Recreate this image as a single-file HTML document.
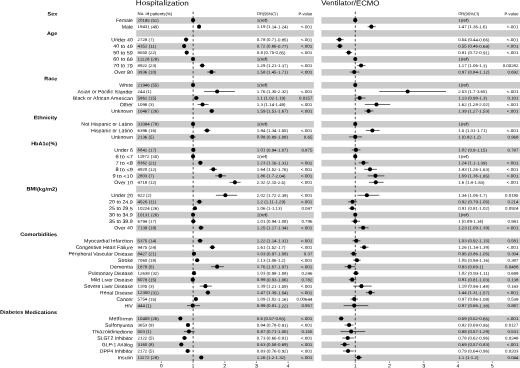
<!DOCTYPE html>
<html><head><meta charset="utf-8"><title>Forest plot</title>
<style>
html,body{margin:0;padding:0;background:#fff;}
body{width:520px;height:368px;overflow:hidden;position:relative;}
#wrap{position:absolute;left:0;top:0;width:520px;height:368px;transform:scale(1.0);transform-origin:0 0;will-change:transform;background:#fff;}
svg{display:block;font-family:"Liberation Sans",sans-serif;}
</style></head><body>
<div id="wrap">
<svg text-rendering="geometricPrecision" width="520" height="368" viewBox="0 0 520 368">
<rect width="520" height="368" fill="#fff"/>
<rect x="136.2" y="17.15" width="177.70" height="6.55" fill="#cbcbcb"/>
<rect x="321.4" y="17.15" width="198.60" height="6.55" fill="#cbcbcb"/>
<rect x="136.2" y="30.12" width="177.70" height="6.55" fill="#cbcbcb"/>
<rect x="321.4" y="30.12" width="198.60" height="6.55" fill="#cbcbcb"/>
<rect x="136.2" y="43.10" width="177.70" height="6.55" fill="#cbcbcb"/>
<rect x="321.4" y="43.10" width="198.60" height="6.55" fill="#cbcbcb"/>
<rect x="136.2" y="56.07" width="177.70" height="6.55" fill="#cbcbcb"/>
<rect x="321.4" y="56.07" width="198.60" height="6.55" fill="#cbcbcb"/>
<rect x="136.2" y="69.05" width="177.70" height="6.55" fill="#cbcbcb"/>
<rect x="321.4" y="69.05" width="198.60" height="6.55" fill="#cbcbcb"/>
<rect x="136.2" y="82.02" width="177.70" height="6.55" fill="#cbcbcb"/>
<rect x="321.4" y="82.02" width="198.60" height="6.55" fill="#cbcbcb"/>
<rect x="136.2" y="95.00" width="177.70" height="6.55" fill="#cbcbcb"/>
<rect x="321.4" y="95.00" width="198.60" height="6.55" fill="#cbcbcb"/>
<rect x="136.2" y="107.97" width="177.70" height="6.55" fill="#cbcbcb"/>
<rect x="321.4" y="107.97" width="198.60" height="6.55" fill="#cbcbcb"/>
<rect x="136.2" y="120.95" width="177.70" height="6.55" fill="#cbcbcb"/>
<rect x="321.4" y="120.95" width="198.60" height="6.55" fill="#cbcbcb"/>
<rect x="136.2" y="133.92" width="177.70" height="6.55" fill="#cbcbcb"/>
<rect x="321.4" y="133.92" width="198.60" height="6.55" fill="#cbcbcb"/>
<rect x="136.2" y="146.90" width="177.70" height="6.55" fill="#cbcbcb"/>
<rect x="321.4" y="146.90" width="198.60" height="6.55" fill="#cbcbcb"/>
<rect x="136.2" y="159.87" width="177.70" height="6.55" fill="#cbcbcb"/>
<rect x="321.4" y="159.87" width="198.60" height="6.55" fill="#cbcbcb"/>
<rect x="136.2" y="172.85" width="177.70" height="6.55" fill="#cbcbcb"/>
<rect x="321.4" y="172.85" width="198.60" height="6.55" fill="#cbcbcb"/>
<rect x="136.2" y="185.82" width="177.70" height="6.55" fill="#cbcbcb"/>
<rect x="321.4" y="185.82" width="198.60" height="6.55" fill="#cbcbcb"/>
<rect x="136.2" y="198.80" width="177.70" height="6.55" fill="#cbcbcb"/>
<rect x="321.4" y="198.80" width="198.60" height="6.55" fill="#cbcbcb"/>
<rect x="136.2" y="211.77" width="177.70" height="6.55" fill="#cbcbcb"/>
<rect x="321.4" y="211.77" width="198.60" height="6.55" fill="#cbcbcb"/>
<rect x="136.2" y="224.75" width="177.70" height="6.55" fill="#cbcbcb"/>
<rect x="321.4" y="224.75" width="198.60" height="6.55" fill="#cbcbcb"/>
<rect x="136.2" y="237.72" width="177.70" height="6.55" fill="#cbcbcb"/>
<rect x="321.4" y="237.72" width="198.60" height="6.55" fill="#cbcbcb"/>
<rect x="136.2" y="250.70" width="177.70" height="6.55" fill="#cbcbcb"/>
<rect x="321.4" y="250.70" width="198.60" height="6.55" fill="#cbcbcb"/>
<rect x="136.2" y="263.67" width="177.70" height="6.55" fill="#cbcbcb"/>
<rect x="321.4" y="263.67" width="198.60" height="6.55" fill="#cbcbcb"/>
<rect x="136.2" y="276.65" width="177.70" height="6.55" fill="#cbcbcb"/>
<rect x="321.4" y="276.65" width="198.60" height="6.55" fill="#cbcbcb"/>
<rect x="136.2" y="289.62" width="177.70" height="6.55" fill="#cbcbcb"/>
<rect x="321.4" y="289.62" width="198.60" height="6.55" fill="#cbcbcb"/>
<rect x="136.2" y="302.60" width="177.70" height="6.55" fill="#cbcbcb"/>
<rect x="321.4" y="302.60" width="198.60" height="6.55" fill="#cbcbcb"/>
<rect x="136.2" y="315.57" width="177.70" height="6.55" fill="#cbcbcb"/>
<rect x="321.4" y="315.57" width="198.60" height="6.55" fill="#cbcbcb"/>
<rect x="136.2" y="328.55" width="177.70" height="6.55" fill="#cbcbcb"/>
<rect x="321.4" y="328.55" width="198.60" height="6.55" fill="#cbcbcb"/>
<rect x="136.2" y="341.52" width="177.70" height="6.55" fill="#cbcbcb"/>
<rect x="321.4" y="341.52" width="198.60" height="6.55" fill="#cbcbcb"/>
<rect x="136.2" y="354.50" width="177.70" height="6.55" fill="#cbcbcb"/>
<rect x="321.4" y="354.50" width="198.60" height="6.55" fill="#cbcbcb"/>
<line x1="193.15" y1="11.68" x2="193.15" y2="361.5" stroke="#1a1a1a" stroke-width="0.74" stroke-dasharray="2.35 2.22"/>
<line x1="355.30" y1="11.68" x2="355.30" y2="361.5" stroke="#1a1a1a" stroke-width="0.74" stroke-dasharray="2.35 2.22"/>
<circle cx="193.05" cy="20.15" r="2.05" fill="#000"/>
<circle cx="355.25" cy="20.15" r="2.05" fill="#000"/>
<line x1="197.49" y1="26.63" x2="200.66" y2="26.63" stroke="#000" stroke-width="0.6"/>
<circle cx="199.07" cy="26.63" r="2.05" fill="#000"/>
<line x1="367.58" y1="26.63" x2="375.80" y2="26.63" stroke="#000" stroke-width="0.6"/>
<circle cx="371.35" cy="26.63" r="2.05" fill="#000"/>
<line x1="183.86" y1="39.61" x2="188.29" y2="39.61" stroke="#000" stroke-width="0.6"/>
<circle cx="186.08" cy="39.61" r="2.05" fill="#000"/>
<line x1="336.07" y1="39.61" x2="343.61" y2="39.61" stroke="#000" stroke-width="0.6"/>
<circle cx="339.50" cy="39.61" r="2.05" fill="#000"/>
<line x1="182.27" y1="46.10" x2="185.76" y2="46.10" stroke="#000" stroke-width="0.6"/>
<circle cx="184.17" cy="46.10" r="2.05" fill="#000"/>
<line x1="336.75" y1="46.10" x2="342.92" y2="46.10" stroke="#000" stroke-width="0.6"/>
<circle cx="339.84" cy="46.10" r="2.05" fill="#000"/>
<line x1="185.12" y1="52.58" x2="188.29" y2="52.58" stroke="#000" stroke-width="0.6"/>
<circle cx="186.71" cy="52.58" r="2.05" fill="#000"/>
<line x1="345.66" y1="52.58" x2="352.17" y2="52.58" stroke="#000" stroke-width="0.6"/>
<circle cx="348.74" cy="52.58" r="2.05" fill="#000"/>
<circle cx="193.05" cy="59.07" r="2.05" fill="#000"/>
<circle cx="355.25" cy="59.07" r="2.05" fill="#000"/>
<line x1="199.71" y1="65.56" x2="204.78" y2="65.56" stroke="#000" stroke-width="0.6"/>
<circle cx="202.24" cy="65.56" r="2.05" fill="#000"/>
<line x1="357.31" y1="65.56" x2="365.52" y2="65.56" stroke="#000" stroke-width="0.6"/>
<circle cx="361.07" cy="65.56" r="2.05" fill="#000"/>
<line x1="207.31" y1="72.05" x2="215.56" y2="72.05" stroke="#000" stroke-width="0.6"/>
<circle cx="211.44" cy="72.05" r="2.05" fill="#000"/>
<line x1="349.77" y1="72.05" x2="359.36" y2="72.05" stroke="#000" stroke-width="0.6"/>
<circle cx="354.22" cy="72.05" r="2.05" fill="#000"/>
<circle cx="193.05" cy="85.02" r="2.05" fill="#000"/>
<circle cx="355.25" cy="85.02" r="2.05" fill="#000"/>
<line x1="204.14" y1="91.51" x2="234.89" y2="91.51" stroke="#000" stroke-width="0.6"/>
<circle cx="217.14" cy="91.51" r="2.05" fill="#000"/>
<line x1="379.23" y1="91.51" x2="446.01" y2="91.51" stroke="#000" stroke-width="0.6"/>
<circle cx="407.65" cy="91.51" r="2.05" fill="#000"/>
<line x1="193.68" y1="98.00" x2="199.07" y2="98.00" stroke="#000" stroke-width="0.6"/>
<circle cx="196.22" cy="98.00" r="2.05" fill="#000"/>
<line x1="354.56" y1="98.00" x2="365.52" y2="98.00" stroke="#000" stroke-width="0.6"/>
<circle cx="359.70" cy="98.00" r="2.05" fill="#000"/>
<line x1="197.49" y1="104.48" x2="208.58" y2="104.48" stroke="#000" stroke-width="0.6"/>
<circle cx="202.56" cy="104.48" r="2.05" fill="#000"/>
<line x1="364.84" y1="104.48" x2="390.19" y2="104.48" stroke="#000" stroke-width="0.6"/>
<circle cx="376.49" cy="104.48" r="2.05" fill="#000"/>
<line x1="209.22" y1="110.97" x2="214.29" y2="110.97" stroke="#000" stroke-width="0.6"/>
<circle cx="211.75" cy="110.97" r="2.05" fill="#000"/>
<line x1="364.50" y1="110.97" x2="373.40" y2="110.97" stroke="#000" stroke-width="0.6"/>
<circle cx="368.61" cy="110.97" r="2.05" fill="#000"/>
<circle cx="193.05" cy="123.95" r="2.05" fill="#000"/>
<circle cx="355.25" cy="123.95" r="2.05" fill="#000"/>
<line x1="203.83" y1="130.44" x2="210.48" y2="130.44" stroke="#000" stroke-width="0.6"/>
<circle cx="207.00" cy="130.44" r="2.05" fill="#000"/>
<line x1="365.87" y1="130.44" x2="379.57" y2="130.44" stroke="#000" stroke-width="0.6"/>
<circle cx="372.38" cy="130.44" r="2.05" fill="#000"/>
<line x1="189.56" y1="136.92" x2="195.59" y2="136.92" stroke="#000" stroke-width="0.6"/>
<circle cx="192.42" cy="136.92" r="2.05" fill="#000"/>
<line x1="349.08" y1="136.92" x2="362.10" y2="136.92" stroke="#000" stroke-width="0.6"/>
<circle cx="355.25" cy="136.92" r="2.05" fill="#000"/>
<line x1="191.15" y1="149.90" x2="195.27" y2="149.90" stroke="#000" stroke-width="0.6"/>
<circle cx="193.37" cy="149.90" r="2.05" fill="#000"/>
<line x1="351.82" y1="149.90" x2="360.39" y2="149.90" stroke="#000" stroke-width="0.6"/>
<circle cx="355.94" cy="149.90" r="2.05" fill="#000"/>
<circle cx="193.05" cy="156.38" r="2.05" fill="#000"/>
<circle cx="355.25" cy="156.38" r="2.05" fill="#000"/>
<line x1="198.12" y1="162.87" x2="202.88" y2="162.87" stroke="#000" stroke-width="0.6"/>
<circle cx="200.34" cy="162.87" r="2.05" fill="#000"/>
<line x1="358.68" y1="162.87" x2="368.61" y2="162.87" stroke="#000" stroke-width="0.6"/>
<circle cx="363.47" cy="162.87" r="2.05" fill="#000"/>
<line x1="209.53" y1="169.36" x2="217.14" y2="169.36" stroke="#000" stroke-width="0.6"/>
<circle cx="213.34" cy="169.36" r="2.05" fill="#000"/>
<line x1="364.15" y1="169.36" x2="376.83" y2="169.36" stroke="#000" stroke-width="0.6"/>
<circle cx="369.98" cy="169.36" r="2.05" fill="#000"/>
<line x1="215.24" y1="175.85" x2="226.02" y2="175.85" stroke="#000" stroke-width="0.6"/>
<circle cx="220.31" cy="175.85" r="2.05" fill="#000"/>
<line x1="367.58" y1="175.85" x2="384.36" y2="175.85" stroke="#000" stroke-width="0.6"/>
<circle cx="375.46" cy="175.85" r="2.05" fill="#000"/>
<line x1="229.50" y1="182.33" x2="240.60" y2="182.33" stroke="#000" stroke-width="0.6"/>
<circle cx="234.89" cy="182.33" r="2.05" fill="#000"/>
<line x1="368.95" y1="182.33" x2="383.68" y2="182.33" stroke="#000" stroke-width="0.6"/>
<circle cx="375.80" cy="182.33" r="2.05" fill="#000"/>
<line x1="215.87" y1="195.31" x2="237.11" y2="195.31" stroke="#000" stroke-width="0.6"/>
<circle cx="225.38" cy="195.31" r="2.05" fill="#000"/>
<line x1="357.31" y1="195.31" x2="379.23" y2="195.31" stroke="#000" stroke-width="0.6"/>
<circle cx="366.89" cy="195.31" r="2.05" fill="#000"/>
<line x1="196.54" y1="201.80" x2="202.24" y2="201.80" stroke="#000" stroke-width="0.6"/>
<circle cx="199.39" cy="201.80" r="2.05" fill="#000"/>
<line x1="348.06" y1="201.80" x2="356.96" y2="201.80" stroke="#000" stroke-width="0.6"/>
<circle cx="352.51" cy="201.80" r="2.05" fill="#000"/>
<line x1="193.05" y1="208.28" x2="197.17" y2="208.28" stroke="#000" stroke-width="0.6"/>
<circle cx="194.95" cy="208.28" r="2.05" fill="#000"/>
<line x1="348.74" y1="208.28" x2="355.94" y2="208.28" stroke="#000" stroke-width="0.6"/>
<circle cx="352.17" cy="208.28" r="2.05" fill="#000"/>
<circle cx="193.05" cy="214.77" r="2.05" fill="#000"/>
<circle cx="355.25" cy="214.77" r="2.05" fill="#000"/>
<line x1="191.15" y1="221.26" x2="195.59" y2="221.26" stroke="#000" stroke-width="0.6"/>
<circle cx="193.37" cy="221.26" r="2.05" fill="#000"/>
<line x1="351.48" y1="221.26" x2="360.05" y2="221.26" stroke="#000" stroke-width="0.6"/>
<circle cx="355.25" cy="221.26" r="2.05" fill="#000"/>
<line x1="198.44" y1="227.75" x2="203.83" y2="227.75" stroke="#000" stroke-width="0.6"/>
<circle cx="200.97" cy="227.75" r="2.05" fill="#000"/>
<line x1="358.33" y1="227.75" x2="368.61" y2="227.75" stroke="#000" stroke-width="0.6"/>
<circle cx="363.13" cy="227.75" r="2.05" fill="#000"/>
<line x1="197.49" y1="240.72" x2="202.88" y2="240.72" stroke="#000" stroke-width="0.6"/>
<circle cx="200.02" cy="240.72" r="2.05" fill="#000"/>
<line x1="352.51" y1="240.72" x2="360.39" y2="240.72" stroke="#000" stroke-width="0.6"/>
<circle cx="356.28" cy="240.72" r="2.05" fill="#000"/>
<line x1="209.53" y1="247.21" x2="215.24" y2="247.21" stroke="#000" stroke-width="0.6"/>
<circle cx="212.39" cy="247.21" r="2.05" fill="#000"/>
<line x1="360.05" y1="247.21" x2="368.61" y2="247.21" stroke="#000" stroke-width="0.6"/>
<circle cx="364.15" cy="247.21" r="2.05" fill="#000"/>
<line x1="192.10" y1="253.70" x2="195.59" y2="253.70" stroke="#000" stroke-width="0.6"/>
<circle cx="194.00" cy="253.70" r="2.05" fill="#000"/>
<line x1="350.45" y1="253.70" x2="356.96" y2="253.70" stroke="#000" stroke-width="0.6"/>
<circle cx="353.54" cy="253.70" r="2.05" fill="#000"/>
<line x1="194.95" y1="260.19" x2="199.39" y2="260.19" stroke="#000" stroke-width="0.6"/>
<circle cx="197.17" cy="260.19" r="2.05" fill="#000"/>
<line x1="353.19" y1="260.19" x2="360.73" y2="260.19" stroke="#000" stroke-width="0.6"/>
<circle cx="356.96" cy="260.19" r="2.05" fill="#000"/>
<line x1="211.12" y1="266.67" x2="223.80" y2="266.67" stroke="#000" stroke-width="0.6"/>
<circle cx="217.14" cy="266.67" r="2.05" fill="#000"/>
<line x1="344.63" y1="266.67" x2="355.25" y2="266.67" stroke="#000" stroke-width="0.6"/>
<circle cx="349.43" cy="266.67" r="2.05" fill="#000"/>
<line x1="192.42" y1="273.16" x2="195.59" y2="273.16" stroke="#000" stroke-width="0.6"/>
<circle cx="194.00" cy="273.16" r="2.05" fill="#000"/>
<line x1="352.85" y1="273.16" x2="359.02" y2="273.16" stroke="#000" stroke-width="0.6"/>
<circle cx="355.94" cy="273.16" r="2.05" fill="#000"/>
<line x1="190.83" y1="279.65" x2="194.95" y2="279.65" stroke="#000" stroke-width="0.6"/>
<circle cx="192.73" cy="279.65" r="2.05" fill="#000"/>
<line x1="348.74" y1="279.65" x2="356.28" y2="279.65" stroke="#000" stroke-width="0.6"/>
<circle cx="352.17" cy="279.65" r="2.05" fill="#000"/>
<line x1="199.71" y1="286.13" x2="211.75" y2="286.13" stroke="#000" stroke-width="0.6"/>
<circle cx="205.41" cy="286.13" r="2.05" fill="#000"/>
<line x1="353.19" y1="286.13" x2="371.69" y2="286.13" stroke="#000" stroke-width="0.6"/>
<circle cx="361.42" cy="286.13" r="2.05" fill="#000"/>
<line x1="205.41" y1="292.62" x2="210.17" y2="292.62" stroke="#000" stroke-width="0.6"/>
<circle cx="207.95" cy="292.62" r="2.05" fill="#000"/>
<line x1="365.87" y1="292.62" x2="374.77" y2="292.62" stroke="#000" stroke-width="0.6"/>
<circle cx="370.32" cy="292.62" r="2.05" fill="#000"/>
<line x1="193.68" y1="299.11" x2="198.12" y2="299.11" stroke="#000" stroke-width="0.6"/>
<circle cx="195.90" cy="299.11" r="2.05" fill="#000"/>
<line x1="350.45" y1="299.11" x2="357.99" y2="299.11" stroke="#000" stroke-width="0.6"/>
<circle cx="354.22" cy="299.11" r="2.05" fill="#000"/>
<line x1="187.03" y1="305.60" x2="200.02" y2="305.60" stroke="#000" stroke-width="0.6"/>
<circle cx="192.73" cy="305.60" r="2.05" fill="#000"/>
<line x1="343.61" y1="305.60" x2="368.26" y2="305.60" stroke="#000" stroke-width="0.6"/>
<circle cx="354.22" cy="305.60" r="2.05" fill="#000"/>
<line x1="179.42" y1="318.57" x2="181.32" y2="318.57" stroke="#000" stroke-width="0.6"/>
<circle cx="180.37" cy="318.57" r="2.05" fill="#000"/>
<line x1="338.81" y1="318.57" x2="343.61" y2="318.57" stroke="#000" stroke-width="0.6"/>
<circle cx="341.21" cy="318.57" r="2.05" fill="#000"/>
<line x1="186.08" y1="325.06" x2="190.20" y2="325.06" stroke="#000" stroke-width="0.6"/>
<circle cx="187.98" cy="325.06" r="2.05" fill="#000"/>
<line x1="344.63" y1="325.06" x2="353.54" y2="325.06" stroke="#000" stroke-width="0.6"/>
<circle cx="349.08" cy="325.06" r="2.05" fill="#000"/>
<line x1="183.86" y1="331.55" x2="194.63" y2="331.55" stroke="#000" stroke-width="0.6"/>
<circle cx="188.93" cy="331.55" r="2.05" fill="#000"/>
<line x1="340.52" y1="331.55" x2="365.18" y2="331.55" stroke="#000" stroke-width="0.6"/>
<circle cx="351.14" cy="331.55" r="2.05" fill="#000"/>
<line x1="182.27" y1="338.04" x2="187.03" y2="338.04" stroke="#000" stroke-width="0.6"/>
<circle cx="184.49" cy="338.04" r="2.05" fill="#000"/>
<line x1="342.24" y1="338.04" x2="353.88" y2="338.04" stroke="#000" stroke-width="0.6"/>
<circle cx="347.71" cy="338.04" r="2.05" fill="#000"/>
<line x1="179.74" y1="344.52" x2="183.22" y2="344.52" stroke="#000" stroke-width="0.6"/>
<circle cx="181.32" cy="344.52" r="2.05" fill="#000"/>
<line x1="340.52" y1="344.52" x2="349.43" y2="344.52" stroke="#000" stroke-width="0.6"/>
<circle cx="344.63" cy="344.52" r="2.05" fill="#000"/>
<line x1="185.44" y1="351.01" x2="190.51" y2="351.01" stroke="#000" stroke-width="0.6"/>
<circle cx="187.66" cy="351.01" r="2.05" fill="#000"/>
<line x1="342.92" y1="351.01" x2="353.88" y2="351.01" stroke="#000" stroke-width="0.6"/>
<circle cx="348.06" cy="351.01" r="2.05" fill="#000"/>
<line x1="199.39" y1="357.50" x2="203.19" y2="357.50" stroke="#000" stroke-width="0.6"/>
<circle cx="201.29" cy="357.50" r="2.05" fill="#000"/>
<line x1="355.25" y1="357.50" x2="362.10" y2="357.50" stroke="#000" stroke-width="0.6"/>
<circle cx="358.68" cy="357.50" r="2.05" fill="#000"/>
<line x1="161.35" y1="361.4" x2="161.35" y2="363.0" stroke="#111" stroke-width="0.5"/>
<line x1="193.05" y1="361.4" x2="193.05" y2="363.0" stroke="#111" stroke-width="0.5"/>
<line x1="224.75" y1="361.4" x2="224.75" y2="363.0" stroke="#111" stroke-width="0.5"/>
<line x1="256.45" y1="361.4" x2="256.45" y2="363.0" stroke="#111" stroke-width="0.5"/>
<line x1="288.15" y1="361.4" x2="288.15" y2="363.0" stroke="#111" stroke-width="0.5"/>
<line x1="355.25" y1="361.4" x2="355.25" y2="363.0" stroke="#111" stroke-width="0.5"/>
<line x1="389.50" y1="361.4" x2="389.50" y2="363.0" stroke="#111" stroke-width="0.5"/>
<line x1="423.75" y1="361.4" x2="423.75" y2="363.0" stroke="#111" stroke-width="0.5"/>
<line x1="458.00" y1="361.4" x2="458.00" y2="363.0" stroke="#111" stroke-width="0.5"/>
<line x1="492.25" y1="361.4" x2="492.25" y2="363.0" stroke="#111" stroke-width="0.5"/>
<g>
<text transform="rotate(0.3 162.3 3.0)" x="135.80" y="5.35" font-size="7.150" textLength="52.99" lengthAdjust="spacingAndGlyphs" fill="#000">Hospitalization</text>
<text transform="rotate(0.3 350.3 3.0)" x="321.20" y="5.35" font-size="7.150" textLength="58.26" lengthAdjust="spacingAndGlyphs" fill="#000">Ventilator/ECMO</text>
<text transform="rotate(0.3 154.9 13.7)" x="137.50" y="15.18" font-size="4.060" textLength="34.74" lengthAdjust="spacingAndGlyphs" fill="#000">No. of patients(%)</text>
<text transform="rotate(0.3 267.3 13.7)" x="256.80" y="15.18" font-size="4.060" textLength="20.98" lengthAdjust="spacingAndGlyphs" fill="#000">OR(95%CI)</text>
<text transform="rotate(0.3 305.4 13.7)" x="298.43" y="15.18" font-size="4.060" textLength="13.97" lengthAdjust="spacingAndGlyphs" fill="#000">P-value</text>
<text transform="rotate(0.3 468.7 13.7)" x="458.20" y="15.18" font-size="4.060" textLength="20.98" lengthAdjust="spacingAndGlyphs" fill="#000">OR(95%CI)</text>
<text transform="rotate(0.3 511.5 13.7)" x="504.53" y="15.18" font-size="4.060" textLength="13.97" lengthAdjust="spacingAndGlyphs" fill="#000">P-value</text>
<text transform="rotate(0.3 52.3 13.7)" x="47.55" y="15.49" font-size="4.982" font-weight="bold" textLength="9.60" lengthAdjust="spacingAndGlyphs" fill="#000">Sex</text>
<text transform="rotate(0.3 124.4 20.1)" x="116.04" y="21.96" font-size="4.929" textLength="16.81" lengthAdjust="spacingAndGlyphs" fill="#000">Female</text>
<text transform="rotate(0.3 148.1 20.1)" x="137.50" y="21.66" font-size="4.060" textLength="21.26" lengthAdjust="spacingAndGlyphs" fill="#000">20185 (51)</text>
<text transform="rotate(0.3 262.1 20.1)" x="256.80" y="21.66" font-size="4.060" textLength="10.62" lengthAdjust="spacingAndGlyphs" fill="#000">1(ref)</text>
<text transform="rotate(0.3 463.5 20.1)" x="458.20" y="21.66" font-size="4.060" textLength="10.62" lengthAdjust="spacingAndGlyphs" fill="#000">1(ref)</text>
<text transform="rotate(0.3 127.3 26.6)" x="121.84" y="28.45" font-size="4.929" textLength="11.01" lengthAdjust="spacingAndGlyphs" fill="#000">Male</text>
<text transform="rotate(0.3 148.1 26.6)" x="137.50" y="28.15" font-size="4.060" textLength="21.26" lengthAdjust="spacingAndGlyphs" fill="#000">19431 (49)</text>
<text transform="rotate(0.3 272.4 26.6)" x="256.80" y="28.15" font-size="4.060" textLength="31.17" lengthAdjust="spacingAndGlyphs" fill="#000">1.19 (1.14-1.24)</text>
<text transform="rotate(0.3 306.5 26.6)" x="300.66" y="28.15" font-size="4.060" textLength="11.74" lengthAdjust="spacingAndGlyphs" fill="#000">&lt;.001</text>
<text transform="rotate(0.3 472.6 26.6)" x="458.20" y="28.15" font-size="4.060" textLength="28.73" lengthAdjust="spacingAndGlyphs" fill="#000">1.47 (1.36-1.6)</text>
<text transform="rotate(0.3 512.6 26.6)" x="506.76" y="28.15" font-size="4.060" textLength="11.74" lengthAdjust="spacingAndGlyphs" fill="#000">&lt;.001</text>
<text transform="rotate(0.3 52.1 33.1)" x="46.96" y="34.96" font-size="4.982" font-weight="bold" textLength="10.19" lengthAdjust="spacingAndGlyphs" fill="#000">Age</text>
<text transform="rotate(0.3 122.1 39.6)" x="111.38" y="41.42" font-size="4.929" textLength="21.47" lengthAdjust="spacingAndGlyphs" fill="#000">Under 40</text>
<text transform="rotate(0.3 145.7 39.6)" x="137.50" y="41.13" font-size="4.060" textLength="16.39" lengthAdjust="spacingAndGlyphs" fill="#000">2728 (7)</text>
<text transform="rotate(0.3 272.4 39.6)" x="256.80" y="41.13" font-size="4.060" textLength="31.17" lengthAdjust="spacingAndGlyphs" fill="#000">0.78 (0.71-0.85)</text>
<text transform="rotate(0.3 306.5 39.6)" x="300.66" y="41.13" font-size="4.060" textLength="11.74" lengthAdjust="spacingAndGlyphs" fill="#000">&lt;.001</text>
<text transform="rotate(0.3 473.8 39.6)" x="458.20" y="41.13" font-size="4.060" textLength="31.17" lengthAdjust="spacingAndGlyphs" fill="#000">0.54 (0.44-0.66)</text>
<text transform="rotate(0.3 512.6 39.6)" x="506.76" y="41.13" font-size="4.060" textLength="11.74" lengthAdjust="spacingAndGlyphs" fill="#000">&lt;.001</text>
<text transform="rotate(0.3 123.1 46.1)" x="113.39" y="47.91" font-size="4.929" textLength="19.46" lengthAdjust="spacingAndGlyphs" fill="#000">40 to 49</text>
<text transform="rotate(0.3 146.9 46.1)" x="137.50" y="47.61" font-size="4.060" textLength="18.83" lengthAdjust="spacingAndGlyphs" fill="#000">4352 (11)</text>
<text transform="rotate(0.3 272.4 46.1)" x="256.80" y="47.61" font-size="4.060" textLength="31.17" lengthAdjust="spacingAndGlyphs" fill="#000">0.72 (0.66-0.77)</text>
<text transform="rotate(0.3 306.5 46.1)" x="300.66" y="47.61" font-size="4.060" textLength="11.74" lengthAdjust="spacingAndGlyphs" fill="#000">&lt;.001</text>
<text transform="rotate(0.3 473.8 46.1)" x="458.20" y="47.61" font-size="4.060" textLength="31.17" lengthAdjust="spacingAndGlyphs" fill="#000">0.55 (0.46-0.64)</text>
<text transform="rotate(0.3 512.6 46.1)" x="506.76" y="47.61" font-size="4.060" textLength="11.74" lengthAdjust="spacingAndGlyphs" fill="#000">&lt;.001</text>
<text transform="rotate(0.3 123.1 52.6)" x="113.39" y="54.40" font-size="4.929" textLength="19.46" lengthAdjust="spacingAndGlyphs" fill="#000">50 to 59</text>
<text transform="rotate(0.3 146.9 52.6)" x="137.50" y="54.10" font-size="4.060" textLength="18.83" lengthAdjust="spacingAndGlyphs" fill="#000">8550 (22)</text>
<text transform="rotate(0.3 271.2 52.6)" x="256.80" y="54.10" font-size="4.060" textLength="28.73" lengthAdjust="spacingAndGlyphs" fill="#000">0.8 (0.75-0.85)</text>
<text transform="rotate(0.3 306.5 52.6)" x="300.66" y="54.10" font-size="4.060" textLength="11.74" lengthAdjust="spacingAndGlyphs" fill="#000">&lt;.001</text>
<text transform="rotate(0.3 473.8 52.6)" x="458.20" y="54.10" font-size="4.060" textLength="31.17" lengthAdjust="spacingAndGlyphs" fill="#000">0.81 (0.72-0.91)</text>
<text transform="rotate(0.3 512.6 52.6)" x="506.76" y="54.10" font-size="4.060" textLength="11.74" lengthAdjust="spacingAndGlyphs" fill="#000">&lt;.001</text>
<text transform="rotate(0.3 123.1 59.1)" x="113.39" y="60.89" font-size="4.929" textLength="19.46" lengthAdjust="spacingAndGlyphs" fill="#000">60 to 69</text>
<text transform="rotate(0.3 148.1 59.1)" x="137.50" y="60.59" font-size="4.060" textLength="21.26" lengthAdjust="spacingAndGlyphs" fill="#000">11128 (28)</text>
<text transform="rotate(0.3 262.1 59.1)" x="256.80" y="60.59" font-size="4.060" textLength="10.62" lengthAdjust="spacingAndGlyphs" fill="#000">1(ref)</text>
<text transform="rotate(0.3 463.5 59.1)" x="458.20" y="60.59" font-size="4.060" textLength="10.62" lengthAdjust="spacingAndGlyphs" fill="#000">1(ref)</text>
<text transform="rotate(0.3 123.1 65.6)" x="113.39" y="67.37" font-size="4.929" textLength="19.46" lengthAdjust="spacingAndGlyphs" fill="#000">70 to 79</text>
<text transform="rotate(0.3 146.9 65.6)" x="137.50" y="67.08" font-size="4.060" textLength="18.83" lengthAdjust="spacingAndGlyphs" fill="#000">8922 (23)</text>
<text transform="rotate(0.3 272.4 65.6)" x="256.80" y="67.08" font-size="4.060" textLength="31.17" lengthAdjust="spacingAndGlyphs" fill="#000">1.29 (1.21-1.37)</text>
<text transform="rotate(0.3 306.5 65.6)" x="300.66" y="67.08" font-size="4.060" textLength="11.74" lengthAdjust="spacingAndGlyphs" fill="#000">&lt;.001</text>
<text transform="rotate(0.3 472.6 65.6)" x="458.20" y="67.08" font-size="4.060" textLength="28.73" lengthAdjust="spacingAndGlyphs" fill="#000">1.17 (1.06-1.3)</text>
<text transform="rotate(0.3 510.6 65.6)" x="502.66" y="67.08" font-size="4.060" textLength="15.84" lengthAdjust="spacingAndGlyphs" fill="#000">0.00282</text>
<text transform="rotate(0.3 123.6 72.0)" x="114.27" y="73.86" font-size="4.929" textLength="18.58" lengthAdjust="spacingAndGlyphs" fill="#000">Over 80</text>
<text transform="rotate(0.3 146.9 72.0)" x="137.50" y="73.56" font-size="4.060" textLength="18.83" lengthAdjust="spacingAndGlyphs" fill="#000">3936 (10)</text>
<text transform="rotate(0.3 272.4 72.0)" x="256.80" y="73.56" font-size="4.060" textLength="31.17" lengthAdjust="spacingAndGlyphs" fill="#000">1.58 (1.45-1.71)</text>
<text transform="rotate(0.3 306.5 72.0)" x="300.66" y="73.56" font-size="4.060" textLength="11.74" lengthAdjust="spacingAndGlyphs" fill="#000">&lt;.001</text>
<text transform="rotate(0.3 473.8 72.0)" x="458.20" y="73.56" font-size="4.060" textLength="31.17" lengthAdjust="spacingAndGlyphs" fill="#000">0.97 (0.84-1.12)</text>
<text transform="rotate(0.3 513.0 72.0)" x="507.54" y="73.56" font-size="4.060" textLength="10.96" lengthAdjust="spacingAndGlyphs" fill="#000">0.692</text>
<text transform="rotate(0.3 50.8 78.5)" x="44.39" y="80.37" font-size="4.982" font-weight="bold" textLength="12.76" lengthAdjust="spacingAndGlyphs" fill="#000">Race</text>
<text transform="rotate(0.3 126.1 85.0)" x="119.33" y="86.84" font-size="4.929" textLength="13.52" lengthAdjust="spacingAndGlyphs" fill="#000">White</text>
<text transform="rotate(0.3 148.1 85.0)" x="137.50" y="86.54" font-size="4.060" textLength="21.26" lengthAdjust="spacingAndGlyphs" fill="#000">21946 (55)</text>
<text transform="rotate(0.3 262.1 85.0)" x="256.80" y="86.54" font-size="4.060" textLength="10.62" lengthAdjust="spacingAndGlyphs" fill="#000">1(ref)</text>
<text transform="rotate(0.3 463.5 85.0)" x="458.20" y="86.54" font-size="4.060" textLength="10.62" lengthAdjust="spacingAndGlyphs" fill="#000">1(ref)</text>
<text transform="rotate(0.3 105.2 91.5)" x="77.58" y="93.32" font-size="4.929" textLength="55.27" lengthAdjust="spacingAndGlyphs" fill="#000">Asian or Pacific Islander</text>
<text transform="rotate(0.3 144.5 91.5)" x="137.50" y="93.03" font-size="4.060" textLength="13.95" lengthAdjust="spacingAndGlyphs" fill="#000">244 (1)</text>
<text transform="rotate(0.3 272.4 91.5)" x="256.80" y="93.03" font-size="4.060" textLength="31.17" lengthAdjust="spacingAndGlyphs" fill="#000">1.76 (1.35-2.32)</text>
<text transform="rotate(0.3 306.5 91.5)" x="300.66" y="93.03" font-size="4.060" textLength="11.74" lengthAdjust="spacingAndGlyphs" fill="#000">&lt;.001</text>
<text transform="rotate(0.3 472.6 91.5)" x="458.20" y="93.03" font-size="4.060" textLength="28.73" lengthAdjust="spacingAndGlyphs" fill="#000">2.53 (1.7-3.65)</text>
<text transform="rotate(0.3 512.6 91.5)" x="506.76" y="93.03" font-size="4.060" textLength="11.74" lengthAdjust="spacingAndGlyphs" fill="#000">&lt;.001</text>
<text transform="rotate(0.3 102.8 98.0)" x="72.74" y="99.81" font-size="4.929" textLength="60.11" lengthAdjust="spacingAndGlyphs" fill="#000">Black or African American</text>
<text transform="rotate(0.3 146.9 98.0)" x="137.50" y="99.51" font-size="4.060" textLength="18.83" lengthAdjust="spacingAndGlyphs" fill="#000">5861 (15)</text>
<text transform="rotate(0.3 271.2 98.0)" x="256.80" y="99.51" font-size="4.060" textLength="28.73" lengthAdjust="spacingAndGlyphs" fill="#000">1.1 (1.02-1.19)</text>
<text transform="rotate(0.3 305.7 98.0)" x="299.00" y="99.51" font-size="4.060" textLength="13.40" lengthAdjust="spacingAndGlyphs" fill="#000">0.0157</text>
<text transform="rotate(0.3 472.6 98.0)" x="458.20" y="99.51" font-size="4.060" textLength="28.73" lengthAdjust="spacingAndGlyphs" fill="#000">1.13 (0.98-1.3)</text>
<text transform="rotate(0.3 513.0 98.0)" x="507.54" y="99.51" font-size="4.060" textLength="10.96" lengthAdjust="spacingAndGlyphs" fill="#000">0.101</text>
<text transform="rotate(0.3 126.2 104.5)" x="119.65" y="106.30" font-size="4.929" textLength="13.20" lengthAdjust="spacingAndGlyphs" fill="#000">Other</text>
<text transform="rotate(0.3 145.7 104.5)" x="137.50" y="106.00" font-size="4.060" textLength="16.39" lengthAdjust="spacingAndGlyphs" fill="#000">1098 (3)</text>
<text transform="rotate(0.3 271.2 104.5)" x="256.80" y="106.00" font-size="4.060" textLength="28.73" lengthAdjust="spacingAndGlyphs" fill="#000">1.3 (1.14-1.49)</text>
<text transform="rotate(0.3 306.5 104.5)" x="300.66" y="106.00" font-size="4.060" textLength="11.74" lengthAdjust="spacingAndGlyphs" fill="#000">&lt;.001</text>
<text transform="rotate(0.3 473.8 104.5)" x="458.20" y="106.00" font-size="4.060" textLength="31.17" lengthAdjust="spacingAndGlyphs" fill="#000">1.62 (1.28-2.02)</text>
<text transform="rotate(0.3 512.6 104.5)" x="506.76" y="106.00" font-size="4.060" textLength="11.74" lengthAdjust="spacingAndGlyphs" fill="#000">&lt;.001</text>
<text transform="rotate(0.3 122.1 111.0)" x="111.26" y="112.79" font-size="4.929" textLength="21.59" lengthAdjust="spacingAndGlyphs" fill="#000">Unknown</text>
<text transform="rotate(0.3 148.1 111.0)" x="137.50" y="112.49" font-size="4.060" textLength="21.26" lengthAdjust="spacingAndGlyphs" fill="#000">10467 (26)</text>
<text transform="rotate(0.3 272.4 111.0)" x="256.80" y="112.49" font-size="4.060" textLength="31.17" lengthAdjust="spacingAndGlyphs" fill="#000">1.59 (1.51-1.67)</text>
<text transform="rotate(0.3 306.5 111.0)" x="300.66" y="112.49" font-size="4.060" textLength="11.74" lengthAdjust="spacingAndGlyphs" fill="#000">&lt;.001</text>
<text transform="rotate(0.3 473.8 111.0)" x="458.20" y="112.49" font-size="4.060" textLength="31.17" lengthAdjust="spacingAndGlyphs" fill="#000">1.39 (1.27-1.53)</text>
<text transform="rotate(0.3 512.6 111.0)" x="506.76" y="112.49" font-size="4.060" textLength="11.74" lengthAdjust="spacingAndGlyphs" fill="#000">&lt;.001</text>
<text transform="rotate(0.3 45.4 117.5)" x="33.68" y="119.29" font-size="4.982" font-weight="bold" textLength="23.47" lengthAdjust="spacingAndGlyphs" fill="#000">Ethnicity</text>
<text transform="rotate(0.3 107.1 123.9)" x="81.36" y="125.76" font-size="4.929" textLength="51.49" lengthAdjust="spacingAndGlyphs" fill="#000">Not Hispanic or Latino</text>
<text transform="rotate(0.3 148.1 123.9)" x="137.50" y="125.46" font-size="4.060" textLength="21.26" lengthAdjust="spacingAndGlyphs" fill="#000">31084 (78)</text>
<text transform="rotate(0.3 262.1 123.9)" x="256.80" y="125.46" font-size="4.060" textLength="10.62" lengthAdjust="spacingAndGlyphs" fill="#000">1(ref)</text>
<text transform="rotate(0.3 463.5 123.9)" x="458.20" y="125.46" font-size="4.060" textLength="10.62" lengthAdjust="spacingAndGlyphs" fill="#000">1(ref)</text>
<text transform="rotate(0.3 111.9 130.4)" x="90.98" y="132.25" font-size="4.929" textLength="41.87" lengthAdjust="spacingAndGlyphs" fill="#000">Hispanic or Latino</text>
<text transform="rotate(0.3 146.9 130.4)" x="137.50" y="131.95" font-size="4.060" textLength="18.83" lengthAdjust="spacingAndGlyphs" fill="#000">6396 (16)</text>
<text transform="rotate(0.3 272.4 130.4)" x="256.80" y="131.95" font-size="4.060" textLength="31.17" lengthAdjust="spacingAndGlyphs" fill="#000">1.44 (1.34-1.55)</text>
<text transform="rotate(0.3 306.5 130.4)" x="300.66" y="131.95" font-size="4.060" textLength="11.74" lengthAdjust="spacingAndGlyphs" fill="#000">&lt;.001</text>
<text transform="rotate(0.3 472.6 130.4)" x="458.20" y="131.95" font-size="4.060" textLength="28.73" lengthAdjust="spacingAndGlyphs" fill="#000">1.5 (1.31-1.71)</text>
<text transform="rotate(0.3 512.6 130.4)" x="506.76" y="131.95" font-size="4.060" textLength="11.74" lengthAdjust="spacingAndGlyphs" fill="#000">&lt;.001</text>
<text transform="rotate(0.3 122.1 136.9)" x="111.26" y="138.74" font-size="4.929" textLength="21.59" lengthAdjust="spacingAndGlyphs" fill="#000">Unknown</text>
<text transform="rotate(0.3 145.7 136.9)" x="137.50" y="138.44" font-size="4.060" textLength="16.39" lengthAdjust="spacingAndGlyphs" fill="#000">2136 (5)</text>
<text transform="rotate(0.3 272.4 136.9)" x="256.80" y="138.44" font-size="4.060" textLength="31.17" lengthAdjust="spacingAndGlyphs" fill="#000">0.98 (0.89-1.08)</text>
<text transform="rotate(0.3 308.1 136.9)" x="303.87" y="138.44" font-size="4.060" textLength="8.53" lengthAdjust="spacingAndGlyphs" fill="#000">0.65</text>
<text transform="rotate(0.3 469.5 136.9)" x="458.20" y="138.44" font-size="4.060" textLength="22.64" lengthAdjust="spacingAndGlyphs" fill="#000">1 (0.82-1.2)</text>
<text transform="rotate(0.3 513.0 136.9)" x="507.54" y="138.44" font-size="4.060" textLength="10.96" lengthAdjust="spacingAndGlyphs" fill="#000">0.968</text>
<text transform="rotate(0.3 44.2 143.4)" x="31.15" y="145.24" font-size="4.982" font-weight="bold" textLength="26.00" lengthAdjust="spacingAndGlyphs" fill="#000">HbA1c(%)</text>
<text transform="rotate(0.3 123.6 149.9)" x="114.34" y="151.71" font-size="4.929" textLength="18.51" lengthAdjust="spacingAndGlyphs" fill="#000">Under 6</text>
<text transform="rotate(0.3 146.9 149.9)" x="137.50" y="151.41" font-size="4.060" textLength="18.83" lengthAdjust="spacingAndGlyphs" fill="#000">6841 (17)</text>
<text transform="rotate(0.3 272.4 149.9)" x="256.80" y="151.41" font-size="4.060" textLength="31.17" lengthAdjust="spacingAndGlyphs" fill="#000">1.01 (0.94-1.07)</text>
<text transform="rotate(0.3 306.9 149.9)" x="301.44" y="151.41" font-size="4.060" textLength="10.96" lengthAdjust="spacingAndGlyphs" fill="#000">0.875</text>
<text transform="rotate(0.3 472.6 149.9)" x="458.20" y="151.41" font-size="4.060" textLength="28.73" lengthAdjust="spacingAndGlyphs" fill="#000">1.02 (0.9-1.15)</text>
<text transform="rotate(0.3 513.0 149.9)" x="507.54" y="151.41" font-size="4.060" textLength="10.96" lengthAdjust="spacingAndGlyphs" fill="#000">0.787</text>
<text transform="rotate(0.3 124.1 156.4)" x="115.41" y="158.20" font-size="4.929" textLength="17.44" lengthAdjust="spacingAndGlyphs" fill="#000">6 to &lt;7</text>
<text transform="rotate(0.3 148.1 156.4)" x="137.50" y="157.90" font-size="4.060" textLength="21.26" lengthAdjust="spacingAndGlyphs" fill="#000">11972 (30)</text>
<text transform="rotate(0.3 262.1 156.4)" x="256.80" y="157.90" font-size="4.060" textLength="10.62" lengthAdjust="spacingAndGlyphs" fill="#000">1(ref)</text>
<text transform="rotate(0.3 463.5 156.4)" x="458.20" y="157.90" font-size="4.060" textLength="10.62" lengthAdjust="spacingAndGlyphs" fill="#000">1(ref)</text>
<text transform="rotate(0.3 124.1 162.9)" x="115.41" y="164.69" font-size="4.929" textLength="17.44" lengthAdjust="spacingAndGlyphs" fill="#000">7 to &lt;8</text>
<text transform="rotate(0.3 146.9 162.9)" x="137.50" y="164.39" font-size="4.060" textLength="18.83" lengthAdjust="spacingAndGlyphs" fill="#000">8362 (21)</text>
<text transform="rotate(0.3 272.4 162.9)" x="256.80" y="164.39" font-size="4.060" textLength="31.17" lengthAdjust="spacingAndGlyphs" fill="#000">1.23 (1.16-1.31)</text>
<text transform="rotate(0.3 306.5 162.9)" x="300.66" y="164.39" font-size="4.060" textLength="11.74" lengthAdjust="spacingAndGlyphs" fill="#000">&lt;.001</text>
<text transform="rotate(0.3 472.6 162.9)" x="458.20" y="164.39" font-size="4.060" textLength="28.73" lengthAdjust="spacingAndGlyphs" fill="#000">1.24 (1.1-1.39)</text>
<text transform="rotate(0.3 512.6 162.9)" x="506.76" y="164.39" font-size="4.060" textLength="11.74" lengthAdjust="spacingAndGlyphs" fill="#000">&lt;.001</text>
<text transform="rotate(0.3 124.1 169.4)" x="115.41" y="171.17" font-size="4.929" textLength="17.44" lengthAdjust="spacingAndGlyphs" fill="#000">8 to &lt;9</text>
<text transform="rotate(0.3 146.9 169.4)" x="137.50" y="170.88" font-size="4.060" textLength="18.83" lengthAdjust="spacingAndGlyphs" fill="#000">4920 (12)</text>
<text transform="rotate(0.3 272.4 169.4)" x="256.80" y="170.88" font-size="4.060" textLength="31.17" lengthAdjust="spacingAndGlyphs" fill="#000">1.64 (1.52-1.76)</text>
<text transform="rotate(0.3 306.5 169.4)" x="300.66" y="170.88" font-size="4.060" textLength="11.74" lengthAdjust="spacingAndGlyphs" fill="#000">&lt;.001</text>
<text transform="rotate(0.3 473.8 169.4)" x="458.20" y="170.88" font-size="4.060" textLength="31.17" lengthAdjust="spacingAndGlyphs" fill="#000">1.43 (1.26-1.63)</text>
<text transform="rotate(0.3 512.6 169.4)" x="506.76" y="170.88" font-size="4.060" textLength="11.74" lengthAdjust="spacingAndGlyphs" fill="#000">&lt;.001</text>
<text transform="rotate(0.3 122.7 175.8)" x="112.45" y="177.66" font-size="4.929" textLength="20.40" lengthAdjust="spacingAndGlyphs" fill="#000">9 to &lt;10</text>
<text transform="rotate(0.3 145.7 175.8)" x="137.50" y="177.36" font-size="4.060" textLength="16.39" lengthAdjust="spacingAndGlyphs" fill="#000">2803 (7)</text>
<text transform="rotate(0.3 271.2 175.8)" x="256.80" y="177.36" font-size="4.060" textLength="28.73" lengthAdjust="spacingAndGlyphs" fill="#000">1.86 (1.7-2.04)</text>
<text transform="rotate(0.3 306.5 175.8)" x="300.66" y="177.36" font-size="4.060" textLength="11.74" lengthAdjust="spacingAndGlyphs" fill="#000">&lt;.001</text>
<text transform="rotate(0.3 473.8 175.8)" x="458.20" y="177.36" font-size="4.060" textLength="31.17" lengthAdjust="spacingAndGlyphs" fill="#000">1.59 (1.36-1.85)</text>
<text transform="rotate(0.3 512.6 175.8)" x="506.76" y="177.36" font-size="4.060" textLength="11.74" lengthAdjust="spacingAndGlyphs" fill="#000">&lt;.001</text>
<text transform="rotate(0.3 123.6 182.3)" x="114.27" y="184.15" font-size="4.929" textLength="18.58" lengthAdjust="spacingAndGlyphs" fill="#000">Over 10</text>
<text transform="rotate(0.3 146.9 182.3)" x="137.50" y="183.85" font-size="4.060" textLength="18.83" lengthAdjust="spacingAndGlyphs" fill="#000">4718 (12)</text>
<text transform="rotate(0.3 271.2 182.3)" x="256.80" y="183.85" font-size="4.060" textLength="28.73" lengthAdjust="spacingAndGlyphs" fill="#000">2.32 (2.15-2.5)</text>
<text transform="rotate(0.3 306.5 182.3)" x="300.66" y="183.85" font-size="4.060" textLength="11.74" lengthAdjust="spacingAndGlyphs" fill="#000">&lt;.001</text>
<text transform="rotate(0.3 471.3 182.3)" x="458.20" y="183.85" font-size="4.060" textLength="26.30" lengthAdjust="spacingAndGlyphs" fill="#000">1.6 (1.4-1.83)</text>
<text transform="rotate(0.3 512.6 182.3)" x="506.76" y="183.85" font-size="4.060" textLength="11.74" lengthAdjust="spacingAndGlyphs" fill="#000">&lt;.001</text>
<text transform="rotate(0.3 41.8 188.8)" x="26.47" y="190.66" font-size="4.982" font-weight="bold" textLength="30.68" lengthAdjust="spacingAndGlyphs" fill="#000">BMI(kg/m2)</text>
<text transform="rotate(0.3 122.1 195.3)" x="111.38" y="197.12" font-size="4.929" textLength="21.47" lengthAdjust="spacingAndGlyphs" fill="#000">Under 20</text>
<text transform="rotate(0.3 144.5 195.3)" x="137.50" y="196.83" font-size="4.060" textLength="13.95" lengthAdjust="spacingAndGlyphs" fill="#000">822 (2)</text>
<text transform="rotate(0.3 272.4 195.3)" x="256.80" y="196.83" font-size="4.060" textLength="31.17" lengthAdjust="spacingAndGlyphs" fill="#000">2.02 (1.72-2.39)</text>
<text transform="rotate(0.3 306.5 195.3)" x="300.66" y="196.83" font-size="4.060" textLength="11.74" lengthAdjust="spacingAndGlyphs" fill="#000">&lt;.001</text>
<text transform="rotate(0.3 472.6 195.3)" x="458.20" y="196.83" font-size="4.060" textLength="28.73" lengthAdjust="spacingAndGlyphs" fill="#000">1.34 (1.06-1.7)</text>
<text transform="rotate(0.3 511.8 195.3)" x="505.10" y="196.83" font-size="4.060" textLength="13.40" lengthAdjust="spacingAndGlyphs" fill="#000">0.0195</text>
<text transform="rotate(0.3 120.9 201.8)" x="108.96" y="203.61" font-size="4.929" textLength="23.89" lengthAdjust="spacingAndGlyphs" fill="#000">20 to 24.9</text>
<text transform="rotate(0.3 146.9 201.8)" x="137.50" y="203.31" font-size="4.060" textLength="18.83" lengthAdjust="spacingAndGlyphs" fill="#000">4526 (11)</text>
<text transform="rotate(0.3 271.2 201.8)" x="256.80" y="203.31" font-size="4.060" textLength="28.73" lengthAdjust="spacingAndGlyphs" fill="#000">1.2 (1.11-1.29)</text>
<text transform="rotate(0.3 306.5 201.8)" x="300.66" y="203.31" font-size="4.060" textLength="11.74" lengthAdjust="spacingAndGlyphs" fill="#000">&lt;.001</text>
<text transform="rotate(0.3 473.8 201.8)" x="458.20" y="203.31" font-size="4.060" textLength="31.17" lengthAdjust="spacingAndGlyphs" fill="#000">0.92 (0.79-1.05)</text>
<text transform="rotate(0.3 513.0 201.8)" x="507.54" y="203.31" font-size="4.060" textLength="10.96" lengthAdjust="spacingAndGlyphs" fill="#000">0.214</text>
<text transform="rotate(0.3 120.9 208.3)" x="108.96" y="210.10" font-size="4.929" textLength="23.89" lengthAdjust="spacingAndGlyphs" fill="#000">25 to 29.5</text>
<text transform="rotate(0.3 148.1 208.3)" x="137.50" y="209.80" font-size="4.060" textLength="21.26" lengthAdjust="spacingAndGlyphs" fill="#000">10224 (26)</text>
<text transform="rotate(0.3 269.3 208.3)" x="256.80" y="209.80" font-size="4.060" textLength="25.08" lengthAdjust="spacingAndGlyphs" fill="#000">1.06 (1-1.13)</text>
<text transform="rotate(0.3 306.9 208.3)" x="301.44" y="209.80" font-size="4.060" textLength="10.96" lengthAdjust="spacingAndGlyphs" fill="#000">0.047</text>
<text transform="rotate(0.3 473.8 208.3)" x="458.20" y="209.80" font-size="4.060" textLength="31.17" lengthAdjust="spacingAndGlyphs" fill="#000">0.91 (0.81-1.02)</text>
<text transform="rotate(0.3 511.8 208.3)" x="505.10" y="209.80" font-size="4.060" textLength="13.40" lengthAdjust="spacingAndGlyphs" fill="#000">0.0924</text>
<text transform="rotate(0.3 120.9 214.8)" x="108.96" y="216.59" font-size="4.929" textLength="23.89" lengthAdjust="spacingAndGlyphs" fill="#000">30 to 34.9</text>
<text transform="rotate(0.3 148.1 214.8)" x="137.50" y="216.29" font-size="4.060" textLength="21.26" lengthAdjust="spacingAndGlyphs" fill="#000">10131 (26)</text>
<text transform="rotate(0.3 262.1 214.8)" x="256.80" y="216.29" font-size="4.060" textLength="10.62" lengthAdjust="spacingAndGlyphs" fill="#000">1(ref)</text>
<text transform="rotate(0.3 463.5 214.8)" x="458.20" y="216.29" font-size="4.060" textLength="10.62" lengthAdjust="spacingAndGlyphs" fill="#000">1(ref)</text>
<text transform="rotate(0.3 120.9 221.3)" x="108.96" y="223.07" font-size="4.929" textLength="23.89" lengthAdjust="spacingAndGlyphs" fill="#000">35 to 39.9</text>
<text transform="rotate(0.3 146.9 221.3)" x="137.50" y="222.78" font-size="4.060" textLength="18.83" lengthAdjust="spacingAndGlyphs" fill="#000">6794 (17)</text>
<text transform="rotate(0.3 272.4 221.3)" x="256.80" y="222.78" font-size="4.060" textLength="31.17" lengthAdjust="spacingAndGlyphs" fill="#000">1.01 (0.94-1.08)</text>
<text transform="rotate(0.3 306.9 221.3)" x="301.44" y="222.78" font-size="4.060" textLength="10.96" lengthAdjust="spacingAndGlyphs" fill="#000">0.796</text>
<text transform="rotate(0.3 470.7 221.3)" x="458.20" y="222.78" font-size="4.060" textLength="25.08" lengthAdjust="spacingAndGlyphs" fill="#000">1 (0.89-1.14)</text>
<text transform="rotate(0.3 513.0 221.3)" x="507.54" y="222.78" font-size="4.060" textLength="10.96" lengthAdjust="spacingAndGlyphs" fill="#000">0.941</text>
<text transform="rotate(0.3 123.6 227.7)" x="114.27" y="229.56" font-size="4.929" textLength="18.58" lengthAdjust="spacingAndGlyphs" fill="#000">Over 40</text>
<text transform="rotate(0.3 146.9 227.7)" x="137.50" y="229.26" font-size="4.060" textLength="18.83" lengthAdjust="spacingAndGlyphs" fill="#000">7139 (18)</text>
<text transform="rotate(0.3 272.4 227.7)" x="256.80" y="229.26" font-size="4.060" textLength="31.17" lengthAdjust="spacingAndGlyphs" fill="#000">1.25 (1.17-1.34)</text>
<text transform="rotate(0.3 306.5 227.7)" x="300.66" y="229.26" font-size="4.060" textLength="11.74" lengthAdjust="spacingAndGlyphs" fill="#000">&lt;.001</text>
<text transform="rotate(0.3 473.8 227.7)" x="458.20" y="229.26" font-size="4.060" textLength="31.17" lengthAdjust="spacingAndGlyphs" fill="#000">1.23 (1.09-1.39)</text>
<text transform="rotate(0.3 512.6 227.7)" x="506.76" y="229.26" font-size="4.060" textLength="11.74" lengthAdjust="spacingAndGlyphs" fill="#000">&lt;.001</text>
<text transform="rotate(0.3 38.7 234.2)" x="20.23" y="236.07" font-size="4.982" font-weight="bold" textLength="36.92" lengthAdjust="spacingAndGlyphs" fill="#000">Comorbidities</text>
<text transform="rotate(0.3 108.5 240.7)" x="84.06" y="242.54" font-size="4.929" textLength="48.79" lengthAdjust="spacingAndGlyphs" fill="#000">Myocardial Infarction</text>
<text transform="rotate(0.3 146.9 240.7)" x="137.50" y="242.24" font-size="4.060" textLength="18.83" lengthAdjust="spacingAndGlyphs" fill="#000">5375 (14)</text>
<text transform="rotate(0.3 272.4 240.7)" x="256.80" y="242.24" font-size="4.060" textLength="31.17" lengthAdjust="spacingAndGlyphs" fill="#000">1.22 (1.14-1.31)</text>
<text transform="rotate(0.3 306.5 240.7)" x="300.66" y="242.24" font-size="4.060" textLength="11.74" lengthAdjust="spacingAndGlyphs" fill="#000">&lt;.001</text>
<text transform="rotate(0.3 473.8 240.7)" x="458.20" y="242.24" font-size="4.060" textLength="31.17" lengthAdjust="spacingAndGlyphs" fill="#000">1.03 (0.92-1.15)</text>
<text transform="rotate(0.3 513.0 240.7)" x="507.54" y="242.24" font-size="4.060" textLength="10.96" lengthAdjust="spacingAndGlyphs" fill="#000">0.581</text>
<text transform="rotate(0.3 104.3 247.2)" x="75.65" y="249.02" font-size="4.929" textLength="57.20" lengthAdjust="spacingAndGlyphs" fill="#000">Congestive Heart Failure</text>
<text transform="rotate(0.3 146.9 247.2)" x="137.50" y="248.73" font-size="4.060" textLength="18.83" lengthAdjust="spacingAndGlyphs" fill="#000">9475 (24)</text>
<text transform="rotate(0.3 271.2 247.2)" x="256.80" y="248.73" font-size="4.060" textLength="28.73" lengthAdjust="spacingAndGlyphs" fill="#000">1.61 (1.52-1.7)</text>
<text transform="rotate(0.3 306.5 247.2)" x="300.66" y="248.73" font-size="4.060" textLength="11.74" lengthAdjust="spacingAndGlyphs" fill="#000">&lt;.001</text>
<text transform="rotate(0.3 473.8 247.2)" x="458.20" y="248.73" font-size="4.060" textLength="31.17" lengthAdjust="spacingAndGlyphs" fill="#000">1.26 (1.14-1.39)</text>
<text transform="rotate(0.3 512.6 247.2)" x="506.76" y="248.73" font-size="4.060" textLength="11.74" lengthAdjust="spacingAndGlyphs" fill="#000">&lt;.001</text>
<text transform="rotate(0.3 100.6 253.7)" x="68.44" y="255.51" font-size="4.929" textLength="64.41" lengthAdjust="spacingAndGlyphs" fill="#000">Peripheral Vascular Disease</text>
<text transform="rotate(0.3 146.9 253.7)" x="137.50" y="255.21" font-size="4.060" textLength="18.83" lengthAdjust="spacingAndGlyphs" fill="#000">8427 (21)</text>
<text transform="rotate(0.3 272.4 253.7)" x="256.80" y="255.21" font-size="4.060" textLength="31.17" lengthAdjust="spacingAndGlyphs" fill="#000">1.03 (0.97-1.08)</text>
<text transform="rotate(0.3 308.1 253.7)" x="303.87" y="255.21" font-size="4.060" textLength="8.53" lengthAdjust="spacingAndGlyphs" fill="#000">0.37</text>
<text transform="rotate(0.3 473.8 253.7)" x="458.20" y="255.21" font-size="4.060" textLength="31.17" lengthAdjust="spacingAndGlyphs" fill="#000">0.95 (0.86-1.05)</text>
<text transform="rotate(0.3 513.0 253.7)" x="507.54" y="255.21" font-size="4.060" textLength="10.96" lengthAdjust="spacingAndGlyphs" fill="#000">0.304</text>
<text transform="rotate(0.3 125.4 260.2)" x="118.03" y="262.00" font-size="4.929" textLength="14.82" lengthAdjust="spacingAndGlyphs" fill="#000">Stroke</text>
<text transform="rotate(0.3 146.9 260.2)" x="137.50" y="261.70" font-size="4.060" textLength="18.83" lengthAdjust="spacingAndGlyphs" fill="#000">7060 (18)</text>
<text transform="rotate(0.3 271.2 260.2)" x="256.80" y="261.70" font-size="4.060" textLength="28.73" lengthAdjust="spacingAndGlyphs" fill="#000">1.13 (1.06-1.2)</text>
<text transform="rotate(0.3 306.5 260.2)" x="300.66" y="261.70" font-size="4.060" textLength="11.74" lengthAdjust="spacingAndGlyphs" fill="#000">&lt;.001</text>
<text transform="rotate(0.3 473.8 260.2)" x="458.20" y="261.70" font-size="4.060" textLength="31.17" lengthAdjust="spacingAndGlyphs" fill="#000">1.05 (0.94-1.16)</text>
<text transform="rotate(0.3 513.0 260.2)" x="507.54" y="261.70" font-size="4.060" textLength="10.96" lengthAdjust="spacingAndGlyphs" fill="#000">0.387</text>
<text transform="rotate(0.3 121.5 266.7)" x="110.11" y="268.49" font-size="4.929" textLength="22.74" lengthAdjust="spacingAndGlyphs" fill="#000">Dementia</text>
<text transform="rotate(0.3 145.7 266.7)" x="137.50" y="268.19" font-size="4.060" textLength="16.39" lengthAdjust="spacingAndGlyphs" fill="#000">1878 (5)</text>
<text transform="rotate(0.3 272.4 266.7)" x="256.80" y="268.19" font-size="4.060" textLength="31.17" lengthAdjust="spacingAndGlyphs" fill="#000">1.76 (1.57-1.97)</text>
<text transform="rotate(0.3 306.5 266.7)" x="300.66" y="268.19" font-size="4.060" textLength="11.74" lengthAdjust="spacingAndGlyphs" fill="#000">&lt;.001</text>
<text transform="rotate(0.3 470.7 266.7)" x="458.20" y="268.19" font-size="4.060" textLength="25.08" lengthAdjust="spacingAndGlyphs" fill="#000">0.83 (0.69-1)</text>
<text transform="rotate(0.3 511.8 266.7)" x="505.10" y="268.19" font-size="4.060" textLength="13.40" lengthAdjust="spacingAndGlyphs" fill="#000">0.0488</text>
<text transform="rotate(0.3 110.6 273.2)" x="88.29" y="274.97" font-size="4.929" textLength="44.56" lengthAdjust="spacingAndGlyphs" fill="#000">Pulmonary Disease</text>
<text transform="rotate(0.3 148.1 273.2)" x="137.50" y="274.68" font-size="4.060" textLength="21.26" lengthAdjust="spacingAndGlyphs" fill="#000">12638 (32)</text>
<text transform="rotate(0.3 272.4 273.2)" x="256.80" y="274.68" font-size="4.060" textLength="31.17" lengthAdjust="spacingAndGlyphs" fill="#000">1.03 (0.98-1.08)</text>
<text transform="rotate(0.3 306.9 273.2)" x="301.44" y="274.68" font-size="4.060" textLength="10.96" lengthAdjust="spacingAndGlyphs" fill="#000">0.246</text>
<text transform="rotate(0.3 473.8 273.2)" x="458.20" y="274.68" font-size="4.060" textLength="31.17" lengthAdjust="spacingAndGlyphs" fill="#000">1.02 (0.93-1.11)</text>
<text transform="rotate(0.3 513.0 273.2)" x="507.54" y="274.68" font-size="4.060" textLength="10.96" lengthAdjust="spacingAndGlyphs" fill="#000">0.699</text>
<text transform="rotate(0.3 111.8 279.6)" x="90.65" y="281.46" font-size="4.929" textLength="42.20" lengthAdjust="spacingAndGlyphs" fill="#000">Mild Liver Disease</text>
<text transform="rotate(0.3 146.9 279.6)" x="137.50" y="281.16" font-size="4.060" textLength="18.83" lengthAdjust="spacingAndGlyphs" fill="#000">6078 (15)</text>
<text transform="rotate(0.3 272.4 279.6)" x="256.80" y="281.16" font-size="4.060" textLength="31.17" lengthAdjust="spacingAndGlyphs" fill="#000">0.99 (0.93-1.06)</text>
<text transform="rotate(0.3 306.9 279.6)" x="301.44" y="281.16" font-size="4.060" textLength="10.96" lengthAdjust="spacingAndGlyphs" fill="#000">0.782</text>
<text transform="rotate(0.3 473.8 279.6)" x="458.20" y="281.16" font-size="4.060" textLength="31.17" lengthAdjust="spacingAndGlyphs" fill="#000">0.91 (0.81-1.03)</text>
<text transform="rotate(0.3 513.0 279.6)" x="507.54" y="281.16" font-size="4.060" textLength="10.96" lengthAdjust="spacingAndGlyphs" fill="#000">0.138</text>
<text transform="rotate(0.3 108.5 286.1)" x="84.10" y="287.95" font-size="4.929" textLength="48.75" lengthAdjust="spacingAndGlyphs" fill="#000">Severe Liver Disease</text>
<text transform="rotate(0.3 145.7 286.1)" x="137.50" y="287.65" font-size="4.060" textLength="16.39" lengthAdjust="spacingAndGlyphs" fill="#000">1185 (3)</text>
<text transform="rotate(0.3 272.4 286.1)" x="256.80" y="287.65" font-size="4.060" textLength="31.17" lengthAdjust="spacingAndGlyphs" fill="#000">1.39 (1.21-1.59)</text>
<text transform="rotate(0.3 306.5 286.1)" x="300.66" y="287.65" font-size="4.060" textLength="11.74" lengthAdjust="spacingAndGlyphs" fill="#000">&lt;.001</text>
<text transform="rotate(0.3 473.8 286.1)" x="458.20" y="287.65" font-size="4.060" textLength="31.17" lengthAdjust="spacingAndGlyphs" fill="#000">1.18 (0.94-1.48)</text>
<text transform="rotate(0.3 513.0 286.1)" x="507.54" y="287.65" font-size="4.060" textLength="10.96" lengthAdjust="spacingAndGlyphs" fill="#000">0.143</text>
<text transform="rotate(0.3 116.5 292.6)" x="100.11" y="294.44" font-size="4.929" textLength="32.74" lengthAdjust="spacingAndGlyphs" fill="#000">Renal Disease</text>
<text transform="rotate(0.3 148.1 292.6)" x="137.50" y="294.14" font-size="4.060" textLength="21.26" lengthAdjust="spacingAndGlyphs" fill="#000">12300 (31)</text>
<text transform="rotate(0.3 272.4 292.6)" x="256.80" y="294.14" font-size="4.060" textLength="31.17" lengthAdjust="spacingAndGlyphs" fill="#000">1.47 (1.39-1.54)</text>
<text transform="rotate(0.3 306.5 292.6)" x="300.66" y="294.14" font-size="4.060" textLength="11.74" lengthAdjust="spacingAndGlyphs" fill="#000">&lt;.001</text>
<text transform="rotate(0.3 473.8 292.6)" x="458.20" y="294.14" font-size="4.060" textLength="31.17" lengthAdjust="spacingAndGlyphs" fill="#000">1.44 (1.31-1.57)</text>
<text transform="rotate(0.3 512.6 292.6)" x="506.76" y="294.14" font-size="4.060" textLength="11.74" lengthAdjust="spacingAndGlyphs" fill="#000">&lt;.001</text>
<text transform="rotate(0.3 124.7 299.1)" x="116.48" y="300.92" font-size="4.929" textLength="16.37" lengthAdjust="spacingAndGlyphs" fill="#000">Cancer</text>
<text transform="rotate(0.3 146.9 299.1)" x="137.50" y="300.63" font-size="4.060" textLength="18.83" lengthAdjust="spacingAndGlyphs" fill="#000">5754 (15)</text>
<text transform="rotate(0.3 272.4 299.1)" x="256.80" y="300.63" font-size="4.060" textLength="31.17" lengthAdjust="spacingAndGlyphs" fill="#000">1.09 (1.02-1.16)</text>
<text transform="rotate(0.3 304.5 299.1)" x="296.56" y="300.63" font-size="4.060" textLength="15.84" lengthAdjust="spacingAndGlyphs" fill="#000">0.00644</text>
<text transform="rotate(0.3 473.8 299.1)" x="458.20" y="300.63" font-size="4.060" textLength="31.17" lengthAdjust="spacingAndGlyphs" fill="#000">0.97 (0.86-1.08)</text>
<text transform="rotate(0.3 513.0 299.1)" x="507.54" y="300.63" font-size="4.060" textLength="10.96" lengthAdjust="spacingAndGlyphs" fill="#000">0.539</text>
<text transform="rotate(0.3 128.8 305.6)" x="124.80" y="307.41" font-size="4.929" textLength="8.05" lengthAdjust="spacingAndGlyphs" fill="#000">HIV</text>
<text transform="rotate(0.3 144.5 305.6)" x="137.50" y="307.11" font-size="4.060" textLength="13.95" lengthAdjust="spacingAndGlyphs" fill="#000">444 (1)</text>
<text transform="rotate(0.3 272.4 305.6)" x="256.80" y="307.11" font-size="4.060" textLength="31.17" lengthAdjust="spacingAndGlyphs" fill="#000">0.99 (0.81-1.22)</text>
<text transform="rotate(0.3 306.9 305.6)" x="301.44" y="307.11" font-size="4.060" textLength="10.96" lengthAdjust="spacingAndGlyphs" fill="#000">0.957</text>
<text transform="rotate(0.3 473.8 305.6)" x="458.20" y="307.11" font-size="4.060" textLength="31.17" lengthAdjust="spacingAndGlyphs" fill="#000">0.97 (0.66-1.38)</text>
<text transform="rotate(0.3 513.0 305.6)" x="507.54" y="307.11" font-size="4.060" textLength="10.96" lengthAdjust="spacingAndGlyphs" fill="#000">0.887</text>
<text transform="rotate(0.3 28.6 312.1)" x="0.02" y="313.92" font-size="4.982" font-weight="bold" textLength="57.13" lengthAdjust="spacingAndGlyphs" fill="#000">Diabetes Medications</text>
<text transform="rotate(0.3 121.0 318.6)" x="109.07" y="320.39" font-size="4.929" textLength="23.78" lengthAdjust="spacingAndGlyphs" fill="#000">Metformin</text>
<text transform="rotate(0.3 148.1 318.6)" x="137.50" y="320.09" font-size="4.060" textLength="21.26" lengthAdjust="spacingAndGlyphs" fill="#000">10408 (26)</text>
<text transform="rotate(0.3 271.2 318.6)" x="256.80" y="320.09" font-size="4.060" textLength="28.73" lengthAdjust="spacingAndGlyphs" fill="#000">0.6 (0.57-0.63)</text>
<text transform="rotate(0.3 306.5 318.6)" x="300.66" y="320.09" font-size="4.060" textLength="11.74" lengthAdjust="spacingAndGlyphs" fill="#000">&lt;.001</text>
<text transform="rotate(0.3 473.8 318.6)" x="458.20" y="320.09" font-size="4.060" textLength="31.17" lengthAdjust="spacingAndGlyphs" fill="#000">0.59 (0.52-0.66)</text>
<text transform="rotate(0.3 512.6 318.6)" x="506.76" y="320.09" font-size="4.060" textLength="11.74" lengthAdjust="spacingAndGlyphs" fill="#000">&lt;.001</text>
<text transform="rotate(0.3 118.9 325.1)" x="105.01" y="326.87" font-size="4.929" textLength="27.84" lengthAdjust="spacingAndGlyphs" fill="#000">Sulfonyurea</text>
<text transform="rotate(0.3 145.7 325.1)" x="137.50" y="326.58" font-size="4.060" textLength="16.39" lengthAdjust="spacingAndGlyphs" fill="#000">3653 (9)</text>
<text transform="rotate(0.3 272.4 325.1)" x="256.80" y="326.58" font-size="4.060" textLength="31.17" lengthAdjust="spacingAndGlyphs" fill="#000">0.84 (0.78-0.91)</text>
<text transform="rotate(0.3 306.5 325.1)" x="300.66" y="326.58" font-size="4.060" textLength="11.74" lengthAdjust="spacingAndGlyphs" fill="#000">&lt;.001</text>
<text transform="rotate(0.3 473.8 325.1)" x="458.20" y="326.58" font-size="4.060" textLength="31.17" lengthAdjust="spacingAndGlyphs" fill="#000">0.82 (0.69-0.95)</text>
<text transform="rotate(0.3 511.8 325.1)" x="505.10" y="326.58" font-size="4.060" textLength="13.40" lengthAdjust="spacingAndGlyphs" fill="#000">0.0127</text>
<text transform="rotate(0.3 112.5 331.5)" x="92.10" y="333.36" font-size="4.929" textLength="40.75" lengthAdjust="spacingAndGlyphs" fill="#000">Thiazolidinedione</text>
<text transform="rotate(0.3 144.5 331.5)" x="137.50" y="333.06" font-size="4.060" textLength="13.95" lengthAdjust="spacingAndGlyphs" fill="#000">503 (1)</text>
<text transform="rotate(0.3 272.4 331.5)" x="256.80" y="333.06" font-size="4.060" textLength="31.17" lengthAdjust="spacingAndGlyphs" fill="#000">0.87 (0.71-1.05)</text>
<text transform="rotate(0.3 306.9 331.5)" x="301.44" y="333.06" font-size="4.060" textLength="10.96" lengthAdjust="spacingAndGlyphs" fill="#000">0.155</text>
<text transform="rotate(0.3 473.8 331.5)" x="458.20" y="333.06" font-size="4.060" textLength="31.17" lengthAdjust="spacingAndGlyphs" fill="#000">0.88 (0.57-1.29)</text>
<text transform="rotate(0.3 513.0 331.5)" x="507.54" y="333.06" font-size="4.060" textLength="10.96" lengthAdjust="spacingAndGlyphs" fill="#000">0.531</text>
<text transform="rotate(0.3 115.0 338.0)" x="97.21" y="339.85" font-size="4.929" textLength="35.64" lengthAdjust="spacingAndGlyphs" fill="#000">SLGT2 Inhibitor</text>
<text transform="rotate(0.3 145.7 338.0)" x="137.50" y="339.55" font-size="4.060" textLength="16.39" lengthAdjust="spacingAndGlyphs" fill="#000">2122 (5)</text>
<text transform="rotate(0.3 272.4 338.0)" x="256.80" y="339.55" font-size="4.060" textLength="31.17" lengthAdjust="spacingAndGlyphs" fill="#000">0.73 (0.66-0.81)</text>
<text transform="rotate(0.3 306.5 338.0)" x="300.66" y="339.55" font-size="4.060" textLength="11.74" lengthAdjust="spacingAndGlyphs" fill="#000">&lt;.001</text>
<text transform="rotate(0.3 473.8 338.0)" x="458.20" y="339.55" font-size="4.060" textLength="31.17" lengthAdjust="spacingAndGlyphs" fill="#000">0.78 (0.62-0.96)</text>
<text transform="rotate(0.3 511.8 338.0)" x="505.10" y="339.55" font-size="4.060" textLength="13.40" lengthAdjust="spacingAndGlyphs" fill="#000">0.0248</text>
<text transform="rotate(0.3 117.3 344.5)" x="101.77" y="346.34" font-size="4.929" textLength="31.08" lengthAdjust="spacingAndGlyphs" fill="#000">GLP-1 Analog</text>
<text transform="rotate(0.3 145.7 344.5)" x="137.50" y="346.04" font-size="4.060" textLength="16.39" lengthAdjust="spacingAndGlyphs" fill="#000">3160 (8)</text>
<text transform="rotate(0.3 272.4 344.5)" x="256.80" y="346.04" font-size="4.060" textLength="31.17" lengthAdjust="spacingAndGlyphs" fill="#000">0.63 (0.58-0.69)</text>
<text transform="rotate(0.3 306.5 344.5)" x="300.66" y="346.04" font-size="4.060" textLength="11.74" lengthAdjust="spacingAndGlyphs" fill="#000">&lt;.001</text>
<text transform="rotate(0.3 473.8 344.5)" x="458.20" y="346.04" font-size="4.060" textLength="31.17" lengthAdjust="spacingAndGlyphs" fill="#000">0.69 (0.57-0.83)</text>
<text transform="rotate(0.3 512.6 344.5)" x="506.76" y="346.04" font-size="4.060" textLength="11.74" lengthAdjust="spacingAndGlyphs" fill="#000">&lt;.001</text>
<text transform="rotate(0.3 116.3 351.0)" x="99.84" y="352.82" font-size="4.929" textLength="33.01" lengthAdjust="spacingAndGlyphs" fill="#000">DPP4 Inhibitor</text>
<text transform="rotate(0.3 145.7 351.0)" x="137.50" y="352.53" font-size="4.060" textLength="16.39" lengthAdjust="spacingAndGlyphs" fill="#000">2172 (5)</text>
<text transform="rotate(0.3 272.4 351.0)" x="256.80" y="352.53" font-size="4.060" textLength="31.17" lengthAdjust="spacingAndGlyphs" fill="#000">0.83 (0.76-0.92)</text>
<text transform="rotate(0.3 306.5 351.0)" x="300.66" y="352.53" font-size="4.060" textLength="11.74" lengthAdjust="spacingAndGlyphs" fill="#000">&lt;.001</text>
<text transform="rotate(0.3 473.8 351.0)" x="458.20" y="352.53" font-size="4.060" textLength="31.17" lengthAdjust="spacingAndGlyphs" fill="#000">0.79 (0.64-0.96)</text>
<text transform="rotate(0.3 511.8 351.0)" x="505.10" y="352.53" font-size="4.060" textLength="13.40" lengthAdjust="spacingAndGlyphs" fill="#000">0.0203</text>
<text transform="rotate(0.3 125.2 357.5)" x="117.63" y="359.31" font-size="4.929" textLength="15.22" lengthAdjust="spacingAndGlyphs" fill="#000">Insulin</text>
<text transform="rotate(0.3 148.1 357.5)" x="137.50" y="359.01" font-size="4.060" textLength="21.26" lengthAdjust="spacingAndGlyphs" fill="#000">11172 (28)</text>
<text transform="rotate(0.3 271.2 357.5)" x="256.80" y="359.01" font-size="4.060" textLength="28.73" lengthAdjust="spacingAndGlyphs" fill="#000">1.26 (1.2-1.32)</text>
<text transform="rotate(0.3 306.5 357.5)" x="300.66" y="359.01" font-size="4.060" textLength="11.74" lengthAdjust="spacingAndGlyphs" fill="#000">&lt;.001</text>
<text transform="rotate(0.3 468.3 357.5)" x="458.20" y="359.01" font-size="4.060" textLength="20.21" lengthAdjust="spacingAndGlyphs" fill="#000">1.1 (1-1.2)</text>
<text transform="rotate(0.3 513.0 357.5)" x="507.54" y="359.01" font-size="4.060" textLength="10.96" lengthAdjust="spacingAndGlyphs" fill="#000">0.044</text>
<text transform="rotate(0.3 161.3 365.8)" x="159.87" y="367.61" font-size="4.929" textLength="2.96" lengthAdjust="spacingAndGlyphs" fill="#000">0</text>
<text transform="rotate(0.3 193.0 365.8)" x="191.57" y="367.61" font-size="4.929" textLength="2.96" lengthAdjust="spacingAndGlyphs" fill="#000">1</text>
<text transform="rotate(0.3 224.8 365.8)" x="223.27" y="367.61" font-size="4.929" textLength="2.96" lengthAdjust="spacingAndGlyphs" fill="#000">2</text>
<text transform="rotate(0.3 256.4 365.8)" x="254.97" y="367.61" font-size="4.929" textLength="2.96" lengthAdjust="spacingAndGlyphs" fill="#000">3</text>
<text transform="rotate(0.3 288.1 365.8)" x="286.67" y="367.61" font-size="4.929" textLength="2.96" lengthAdjust="spacingAndGlyphs" fill="#000">4</text>
<text transform="rotate(0.3 355.2 365.8)" x="353.77" y="367.61" font-size="4.929" textLength="2.96" lengthAdjust="spacingAndGlyphs" fill="#000">1</text>
<text transform="rotate(0.3 389.5 365.8)" x="388.02" y="367.61" font-size="4.929" textLength="2.96" lengthAdjust="spacingAndGlyphs" fill="#000">2</text>
<text transform="rotate(0.3 423.8 365.8)" x="422.27" y="367.61" font-size="4.929" textLength="2.96" lengthAdjust="spacingAndGlyphs" fill="#000">3</text>
<text transform="rotate(0.3 458.0 365.8)" x="456.52" y="367.61" font-size="4.929" textLength="2.96" lengthAdjust="spacingAndGlyphs" fill="#000">4</text>
<text transform="rotate(0.3 492.2 365.8)" x="490.77" y="367.61" font-size="4.929" textLength="2.96" lengthAdjust="spacingAndGlyphs" fill="#000">5</text>
</g>
</svg>
</div>
</body></html>
